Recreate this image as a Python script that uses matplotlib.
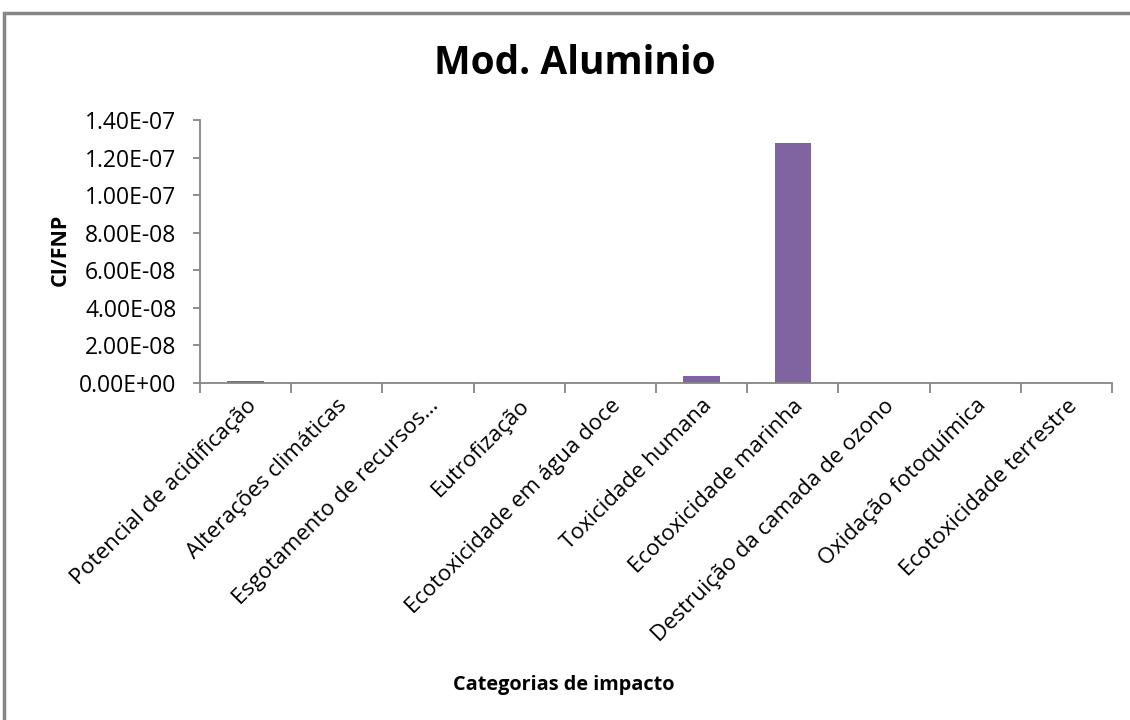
import matplotlib
matplotlib.use("Agg")
import matplotlib.pyplot as plt
from matplotlib.patches import Rectangle
from matplotlib.ticker import FuncFormatter, MultipleLocator

categories = [
    "Potencial de acidificação",
    "Alterações climáticas",
    "Esgotamento de recursos…",
    "Eutrofização",
    "Ecotoxicidade em água doce",
    "Toxicidade humana",
    "Ecotoxicidade marinha",
    "Destruição da camada de ozono",
    "Oxidação fotoquímica",
    "Ecotoxicidade terrestre",
]
values = [8e-10, 0.0, 0.0, 0.0, 0.0, 3.5e-9, 1.28e-7, 0.0, 0.0, 0.0]

W, H = 1130, 720
fig = plt.figure(figsize=(W / 100, H / 100), dpi=100)
font = ["Open Sans", "DejaVu Sans"]
gray = "#868686"

# outer chart frame
fig.patches.append(Rectangle((4 / W, -0.05), 1.2, 1 - 13 / H + 0.05,
                             transform=fig.transFigure, fill=False,
                             edgecolor=gray, linewidth=2.5))

left, right, top, bottom = 200, 1112, 120, 382.7
ax = fig.add_axes([left / W, 1 - bottom / H, (right - left) / W, (bottom - top) / H])
x = list(range(len(categories)))
ax.bar(x, values, width=0.4, color="#8064A2")
ax.set_xlim(-0.5, len(categories) - 0.5)
ax.set_ylim(0, 1.4e-7)
ax.yaxis.set_major_locator(MultipleLocator(2e-8))
ax.yaxis.set_major_formatter(FuncFormatter(lambda v, p: f"{v:.2E}"))

for s in ["top", "right"]:
    ax.spines[s].set_visible(False)
for s in ["left", "bottom"]:
    ax.spines[s].set_color(gray)
    ax.spines[s].set_linewidth(1.3)

ax.set_xticks([i - 0.5 for i in range(len(categories) + 1)])
ax.set_xticklabels([])
ax.set_xticks(x, minor=True)
ax.set_xticklabels(categories, minor=True, rotation=45, ha="right",
                   rotation_mode="anchor", fontsize=16, family=font)
ax.tick_params(axis="x", which="major", direction="out", length=7, color=gray, width=1.3)
ax.tick_params(axis="x", which="minor", length=0, pad=9)
ax.tick_params(axis="y", direction="out", length=5, color=gray, width=1.3,
               labelsize=16.5, pad=12)
for t in ax.get_yticklabels():
    t.set_family(font)

fig.text(575 / W, 1 - 63 / H, "Mod. Aluminio", ha="center", va="center",
         fontsize=28, fontweight="bold", family=font)
fig.text(60 / W, 1 - 250 / H, "CI/FNP", ha="center", va="center", rotation=90,
         fontsize=15.5, fontweight="bold", family=font)
fig.text(564 / W, 1 - 685 / H, "Categorias de impacto", ha="center", va="center",
         fontsize=14.3, fontweight="bold", family=font)

fig.savefig("out.png", dpi=100)
